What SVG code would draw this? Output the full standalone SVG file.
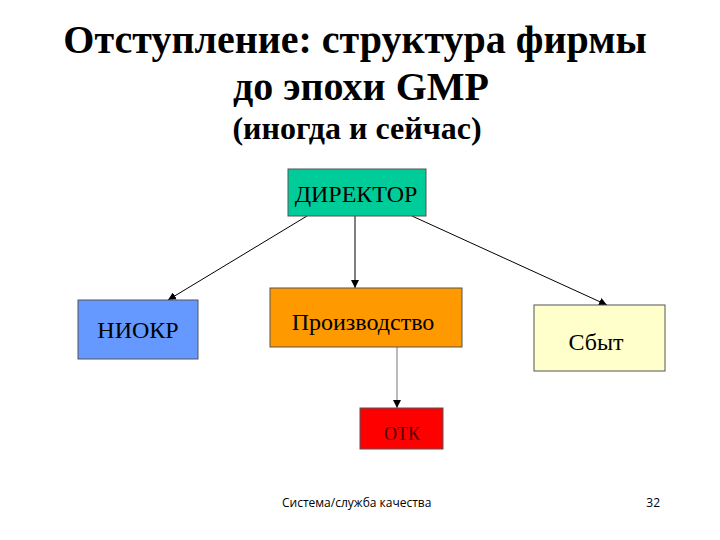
<svg xmlns="http://www.w3.org/2000/svg" width="720" height="540" viewBox="0 0 720 540">
<style>
.title{font-family:"Liberation Serif","Times New Roman",serif;font-weight:bold;fill:#000;text-anchor:middle}
.box{stroke:#555;stroke-width:1}
.lbl{font-family:"Liberation Serif","Times New Roman",serif;font-size:24px;fill:#000;text-anchor:middle}
.conn{stroke:#000;stroke-width:1;fill:none;marker-end:url(#arr)}
.foot{font-family:"Open Sans","DejaVu Sans",sans-serif;font-size:12px;fill:#000}
</style>
<defs>
<marker id="arr" viewBox="0 0 10 10" refX="10" refY="5" markerWidth="8" markerHeight="8" markerUnits="userSpaceOnUse" orient="auto">
<path d="M0,0 L10,5 L0,10 z" fill="#000"/>
</marker>
</defs>
<rect width="720" height="540" fill="#fff"/>
<g id="title">
<text class="title" x="355" y="53" font-size="40">Отступление: структура фирмы</text>
<text class="title" x="361" y="100" font-size="40">до эпохи GMP</text>
<text class="title" x="357" y="139" font-size="32">(иногда и сейчас)</text>
</g>
<g id="connectors">
<line class="conn" x1="307" y1="216" x2="168" y2="300"/>
<line class="conn" x1="355" y1="216" x2="355" y2="288"/>
<line class="conn" x1="412" y1="216" x2="607" y2="305"/>
<line class="conn" x1="397" y1="347" x2="397" y2="408" style="stroke:#777"/>
</g>
<g id="director">
<rect class="box" x="288" y="169" width="138" height="47" fill="#00CC99"/>
<text class="lbl" x="356" y="202">ДИРЕКТОР</text>
</g>
<g id="niokr">
<rect class="box" x="78" y="300" width="120" height="59" fill="#6699FF"/>
<text class="lbl" x="138" y="338">НИОКР</text>
</g>
<g id="production">
<rect class="box" x="270" y="288" width="192" height="59" fill="#FF9900"/>
<text class="lbl" x="363" y="330">Производство</text>
</g>
<g id="sbyt">
<rect class="box" x="534" y="305" width="131" height="66" fill="#FFFFCC"/>
<text class="lbl" x="596" y="350">Сбыт</text>
</g>
<g id="otk">
<rect class="box" x="360" y="408" width="83" height="41" fill="#FF0000"/>
<text class="lbl" x="402" y="440" style="font-size:18px;fill:#550000">ОТК</text>
</g>
<g id="footer">
<text class="foot" x="282" y="507">Система/служба качества</text>
<text class="foot" x="660" y="507" text-anchor="end">32</text>
</g>
</svg>
